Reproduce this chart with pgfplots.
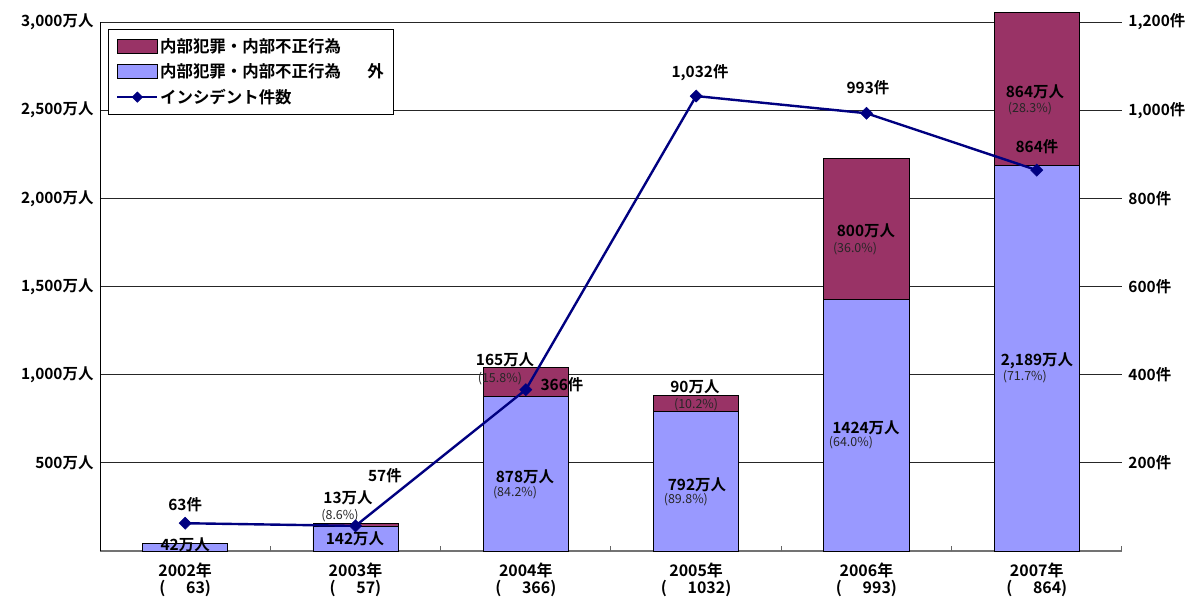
\documentclass[border=0pt]{standalone}
\usepackage{fontspec}
\setmainfont{Noto Sans CJK JP}[BoldFont={Noto Sans CJK JP Bold}]
\usepackage{pgfplots}
\pgfplotsset{compat=1.18}
\definecolor{maroon}{HTML}{993366}
\definecolor{lav}{HTML}{9999FF}
\definecolor{navy}{HTML}{000080}
\newcommand{\lab}{\bfseries\fontsize{15.5}{17}\selectfont}
\newcommand{\pct}{\fontsize{12.5}{14}\selectfont\color{black!85}}
\begin{document}
\begin{tikzpicture}[x=1bp,y=1bp]
\begin{axis}[
  scale only axis, width=1022bp, height=529bp,
  xmin=-0.5, xmax=5.5, ymin=0, ymax=3000,
  clip=false,
  axis x line*=bottom, axis y line*=left,
  x axis line style={black!55, line width=1.5bp},
  y axis line style={black, line width=0.8bp},
  xtick={0,1,2,3,4,5},
  xticklabels={{2002年\\(\hspace{1.3em}63)},{2003年\\(\hspace{1.3em}57)},{2004年\\(\hspace{1.3em}366)},{2005年\\(\hspace{1.3em}1032)},{2006年\\(\hspace{1.3em}993)},{2007年\\(\hspace{1.3em}864)}},
  x tick label style={align=center, font=\bfseries\fontsize{16}{17.5}\selectfont, yshift=-8bp},
  extra x ticks={0.5,1.5,2.5,3.5,4.5,5.5},
  extra x tick labels={},
  extra x tick style={major tick length=5bp, tick align=inside, tick style={black!60, line width=1bp}, grid=none},
  major tick length=0,
  ytick={500,1000,1500,2000,2500,3000},
  yticklabels={500万人,{1,000万人},{1,500万人},{2,000万人},{2,500万人},{3,000万人}},
  y tick label style={font=\bfseries\fontsize{15.5}{17}\selectfont, xshift=-3bp},
  ymajorgrids, grid style={black!85, line width=0.7bp},
  ybar stacked, bar width=0.5,
  legend cell align=left,
  legend style={at={(rel axis cs:0.008,0.987)}, anchor=north west, draw=black, line width=0.8bp,
    font=\bfseries\fontsize{16.5}{18}\selectfont, row sep=6bp, inner xsep=8bp, inner ysep=7bp},
]
\addplot[fill=lav, draw=black, line width=0.8bp, forget plot] coordinates {(0,42) (1,142) (2,878) (3,792) (4,1424) (5,2189)};
\addplot[fill=maroon, draw=black, line width=0.8bp, forget plot] coordinates {(0,0) (1,13) (2,165) (3,90) (4,800) (5,864)};
\addlegendimage{legend image code/.code={\draw[fill=maroon, draw=black, line width=0.8bp] (0bp,-7bp) rectangle (40bp,7bp);}}
\addlegendentry{内部犯罪・内部不正行為}
\addlegendimage{legend image code/.code={\draw[fill=lav, draw=black, line width=0.8bp] (0bp,-7bp) rectangle (40bp,7bp);}}
\addlegendentry{内部犯罪・内部不正行為\hspace{1.6em}外\hspace{0.3em}}
\addlegendimage{legend image code/.code={\draw[navy, line width=1.6bp] (0bp,0bp)--(40bp,0bp); \fill[navy] (20bp,5bp)--(25bp,0bp)--(20bp,-5bp)--(15bp,0bp)--cycle;}}
\addlegendentry{インシデント件数}
\end{axis}
\begin{axis}[
  scale only axis, width=1022bp, height=529bp,
  xmin=-0.5, xmax=5.5, ymin=0, ymax=1200,
  clip=false,
  axis x line=none, axis y line*=right,
  y axis line style={draw=none},
  major tick length=0,
  ytick={200,400,600,800,1000,1200},
  yticklabels={200件,400件,600件,800件,{1,000件},{1,200件}},
  y tick label style={font=\bfseries\fontsize{15.5}{17}\selectfont, xshift=3bp},
]
\addplot[navy, line width=2.4bp, mark=square*, mark size=4.3bp, mark options={rotate=45, fill=navy, line width=0.5bp}] coordinates {(0,63) (1,57) (2,366) (3,1032) (4,993) (5,864)};
% labels (right-axis scale)
\node[font=\lab] at (axis cs:0,13.6) {42万人};
\node[font=\lab] at (axis cs:0,104.4) {63件};
\node[font=\lab] at (axis cs:0.956,120) {13万人};
\node[font=\pct] at (axis cs:0.909,79.2) {(8.6\%)};
\node[font=\lab] at (axis cs:0.997,27.2) {142万人};
\node[font=\lab] at (axis cs:1.173,170) {57件};
\node[font=\lab] at (axis cs:1.878,433.2) {165万人};
\node[font=\pct] at (axis cs:1.848,390) {(15.8\%)};
\node[font=\lab] at (axis cs:2.212,376.4) {366件};
\node[font=\lab] at (axis cs:1.995,168) {878万人};
\node[font=\pct] at (axis cs:1.937,131.6) {(84.2\%)};
\node[font=\lab] at (axis cs:2.993,372) {90万人};
\node[font=\pct] at (axis cs:3.0,331.2) {(10.2\%)};
\node[font=\lab] at (axis cs:3.005,149.6) {792万人};
\node[font=\pct] at (axis cs:2.94,115.6) {(89.8\%)};
\node[font=\lab] at (axis cs:3.023,1084.4) {1,032件};
\node[font=\lab] at (axis cs:3.997,726) {800万人};
\node[font=\pct] at (axis cs:3.933,685.2) {(36.0\%)};
\node[font=\lab] at (axis cs:4.009,1050.4) {993件};
\node[font=\lab] at (axis cs:3.997,279.2) {1424万人};
\node[font=\pct] at (axis cs:3.909,244.8) {(64.0\%)};
\node[font=\lab] at (axis cs:4.989,1041.2) {864万人};
\node[font=\pct] at (axis cs:4.96,1002.8) {(28.3\%)};
\node[font=\lab] at (axis cs:5.001,916.4) {864件};
\node[font=\lab] at (axis cs:5.001,430.8) {2,189万人};
\node[font=\pct] at (axis cs:4.93,394.8) {(71.7\%)};
\end{axis}
\pgfresetboundingbox
\path (-100bp,-52bp) rectangle (1089bp,551bp);
\end{tikzpicture}
\end{document}
